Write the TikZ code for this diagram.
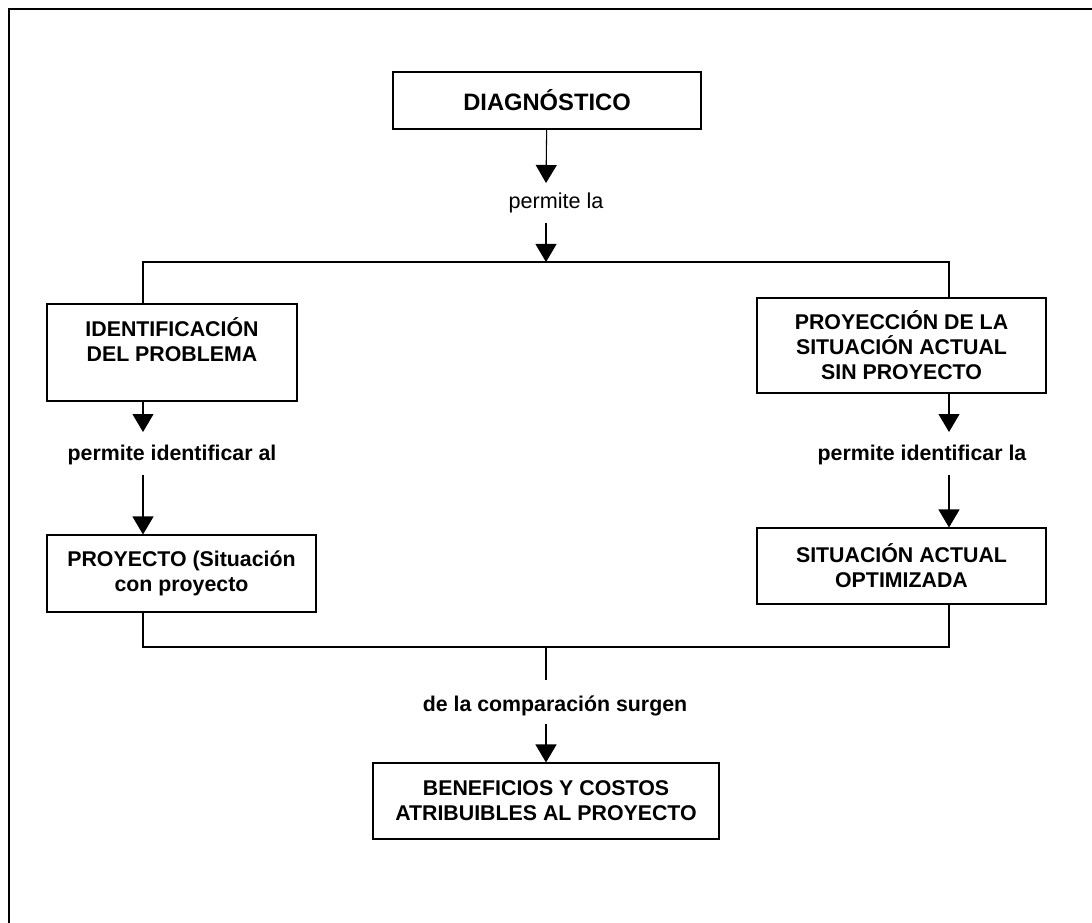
\documentclass[tikz,border=0pt]{standalone}
\usepackage{fontspec}
\setmainfont{Liberation Sans}
\usetikzlibrary{arrows.meta}
\tikzstyle{box}=[draw, rectangle, align=center, inner sep=0pt, line width=0.8pt, font=\bfseries\fontsize{16}{18.75}\selectfont]
\tikzset{tag/.style={align=center, inner sep=0pt, font=\bfseries\fontsize{16}{18.75}\selectfont}}
\tikzset{flow/.style={-{Triangle[width=15.75pt,length=13.5pt]}, line width=0.8pt}}
\tikzset{link/.style={line width=0.8pt}}

\begin{document}
\begin{tikzpicture}[x=0.75pt,y=-0.75pt]
  \useasboundingbox (0,0) rectangle (1092,923);
  \draw[line width=1.5pt] (1092,9.5) -| (8.5,923);

  \draw (547,100.5) node[box,minimum width=231pt,minimum height=42.75pt,font=\bfseries\fontsize{17.8}{21}\selectfont] (diag) {DIAGNÓSTICO};
  \draw (556,203) node[tag,font=\fontsize{16.2}{18.75}\selectfont] (lblLa) {permite la};

  \draw (172,352.5) node[box,minimum width=187.5pt,minimum height=72.75pt] (ident) {IDENTIFICACIÓN\\DEL PROBLEMA\\\mbox{}};
  \draw (901.5,345.5) node[box,minimum width=216.75pt,minimum height=71.25pt] (proyec) {PROYECCIÓN DE LA\\SITUACIÓN ACTUAL\\SIN PROYECTO};

  \draw (172,455) node[tag] (lblAl) {permite identificar al};
  \draw (922,455) node[tag] (lblIdLa) {permite identificar la};

  \draw (181.5,573.5) node[box,minimum width=201.75pt,minimum height=57.75pt] (proy) {PROYECTO (Situación\\con proyecto};
  \draw (901.5,566) node[box,minimum width=216.75pt,minimum height=57pt] (sit) {SITUACIÓN ACTUAL\\OPTIMIZADA};

  \draw (555,706) node[tag] (lblSurgen) {de la comparación surgen};
  \draw (546,801) node[box,minimum width=259.5pt,minimum height=57pt] (benef) {BENEFICIOS Y COSTOS\\ATRIBUIBLES AL PROYECTO};

  %% Columns and free ends
  \coordinate (leftCol) at (143,0);
  \coordinate (rightCol) at (949,0);
  \coordinate (splitTop) at (546,262);
  \coordinate (joinBot) at (546,647);
  \coordinate (laTop) at (546,183);
  \coordinate (laBot) at (546,223);
  \coordinate (alTop) at (143,432);
  \coordinate (alBot) at (143,475);
  \coordinate (idLaTop) at (949,432);
  \coordinate (idLaBot) at (949,475);
  \coordinate (surgenTop) at (546,680);
  \coordinate (surgenBot) at (546,724);

  \draw[flow] (diag) -- (laTop);
  \draw[flow] (laBot) -- (splitTop);
  \draw[link] (splitTop) -| (ident.north -| leftCol);
  \draw[link] (splitTop) -| (proyec.north -| rightCol);

  \draw[flow] (ident.south -| leftCol) -- (alTop);
  \draw[flow] (alBot) -- (proy.north -| leftCol);
  \draw[flow] (proyec.south -| rightCol) -- (idLaTop);
  \draw[flow] (idLaBot) -- (sit.north -| rightCol);

  %% Comparison
  \draw[link] (proy.south -| leftCol) |- (joinBot) -| (sit.south -| rightCol);
  \draw[link] (joinBot) -- (surgenTop);
  \draw[flow] (surgenBot) -- (benef);
\end{tikzpicture}
\end{document}
